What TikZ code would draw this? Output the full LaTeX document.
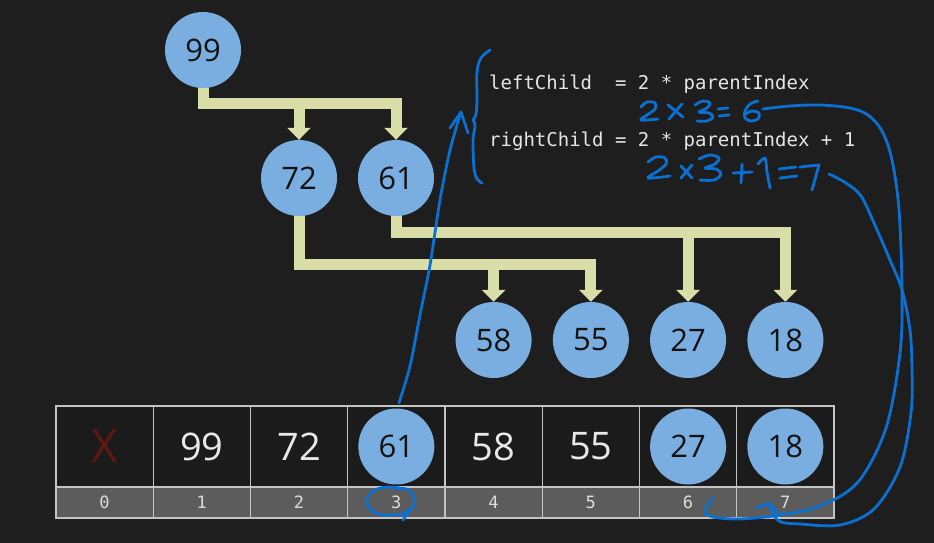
\documentclass[tikz,border=0pt]{standalone}
\usepackage{fontspec}
\setmainfont{Open Sans}
\newfontfamily\codefont{DejaVu Sans Mono}
\usetikzlibrary{arrows.meta}
\definecolor{bgc}{HTML}{1E1E1E}
\definecolor{circ}{HTML}{7BAEE0}
\definecolor{circtext}{HTML}{121212}
\definecolor{connc}{HTML}{D9DEA8}
\definecolor{gridc}{HTML}{C4C4C4}
\definecolor{idxfill}{HTML}{5C5C5C}
\definecolor{idxtext}{HTML}{DCDCDC}
\definecolor{valtext}{HTML}{E8E8E8}
\definecolor{xred}{HTML}{5E1712}
\definecolor{codetext}{HTML}{E6E6E6}
\definecolor{ink}{HTML}{0A70D2}
\pgfdeclarelayer{bglayer}
\pgfdeclarelayer{connlayer}
\pgfsetlayers{bglayer,connlayer,main}
\tikzset{
  tnode/.style={circle, minimum size=76pt, inner sep=0pt, fill=circ, text=circtext, font=\fontsize{31}{36}\selectfont},
  conn/.style={draw=connc, line width=11pt, -{Triangle[width=23pt,length=12pt]}},
  valcell/.style={draw=gridc, line width=1.2pt, fill=bgc!90!black, minimum width=97.25pt, minimum height=81pt, inner sep=0pt, text=valtext, font=\fontsize{38}{44}\selectfont},
  idxcell/.style={draw=gridc, line width=1.2pt, fill=idxfill, minimum width=97.25pt, minimum height=31pt, inner sep=0pt, text=idxtext, font=\codefont\fontsize{17}{20}\selectfont},
  codeline/.style={anchor=base west, inner sep=0pt, text=codetext, font=\codefont\fontsize{19}{23}\selectfont},
  hand/.style={draw=ink, line width=2.8pt, line cap=round, line join=round}
}
\begin{document}
\begin{tikzpicture}[x=1pt,y=-1pt]
\begin{pgfonlayer}{bglayer}
\fill[bgc] (0,0) rectangle (934,543);
\end{pgfonlayer}
\useasboundingbox (0,0) rectangle (934,543);

% tree nodes
\node[tnode] (t99) at (203,50) {99};
\node[tnode] (t72) at (299,178) {72};
\node[tnode] (t61) at (396,178) {61};
\node[tnode] (t58) at (493.6,340) {58};
\node[tnode] (t55) at (590.9,340) {55};
\node[tnode] (t27) at (688.1,340) {27};
\node[tnode] (t18) at (785.4,340) {18};

\coordinate (b1) at (0,103.5);
\coordinate (b2) at (0,264);
\coordinate (b3) at (0,232);

\begin{pgfonlayer}{connlayer}
\draw[conn] (t99.center) -- (t99.center |- b1) -| (t61.north);
\draw[conn] (t72.north |- b1) -- (t72.north);
\draw[conn] (t72.center) -- (t72.center |- b2) -| (t55.north);
\draw[conn] (t58.north |- b2) -- (t58.north);
\draw[conn] (t61.center) -- (t61.center |- b3) -| (t18.north);
\draw[conn] (t27.north |- b3) -- (t27.north);
\end{pgfonlayer}

% array
\foreach \i/\v in {0/,1/99,2/72,3/,4/58,5/55,6/,7/}{
  \node[valcell] (v\i) at (104.6+97.25*\i,446.5) {\v};
  \node[idxcell] (i\i) at (104.6+97.25*\i,502.5) {\i};
}
\node[text=xred, font=\fontsize{46}{50}\selectfont] (xmark) at (v0) {X};
\node[tnode] (a3) at (v3) {61};
\node[tnode] (a6) at (v6) {27};
\node[tnode] (a7) at (v7) {18};

% code
\node[codeline] (lc) at (489,89) {leftChild\ \ =\ 2\ *\ parentIndex};
\node[codeline] (rc) at (489,146) {rightChild\ =\ 2\ *\ parentIndex\ +\ 1};

% hand-drawn annotations
% brace
\draw[hand] plot[smooth, tension=0.6] coordinates {(490,50)(481,58)(477,72)(477,100)(476,114)(473,120)};
\draw[hand] plot[smooth, tension=0.6] coordinates {(473,120)(475,126)(473,140)(474,168)(477,179)(482,183)};
% arrow from 3 up to brace
\coordinate (arrs) at (399,403);
\coordinate (arre) at (461,112);
\draw[hand] plot[smooth] coordinates {(arrs)(410,366)(420,315)(430,265)(440,200)(450,150)(arre)};
\draw[hand] (450,128) -- (arre) -- (468,133);
% loop round index 3
\draw[hand] plot[smooth, tension=0.7] coordinates {(404,489)(387,487)(372,492)(367,503)(376,513)(395,515)(411,509)(414,497)(406,489)(396,489)};
\draw[hand] (413,506) -- (403,520);

% 2 x 3 = 6
\draw[hand] plot[smooth, tension=0.6] coordinates {(641,107)(647,102)(655,103)(655,109)(647,115)(641,120)(658,119)};
\draw[hand] (668,105) -- (683,117);
\draw[hand] (682,104) -- (669,119);
\draw[hand] plot[smooth, tension=0.6] coordinates {(695,105)(703,101)(710,103)(707,108)(699,112)(709,113)(713,117)(707,121)(697,121)};
\draw[hand] (718,109) -- (728,108);
\draw[hand] (719,116) -- (729,115);
\draw[hand] plot[smooth, tension=0.6] coordinates {(758,101)(750,104)(745,111)(745,118)(751,121)(758,119)(759,113)(752,111)(746,114)};
% curve from 6 to index 6
\draw[hand] plot[smooth, tension=0.55] coordinates {(763,109)(790,106)(820,105)(850,108)(868,115)(882,131)(892,160)(899,210)(902,290)(900,353)(886,428)(858,482)(820,506)(780,515)(740,519)(713,517)(704,512)};
\draw[hand] (704,512) -- (712,498);

% 2 x 3 + 1 = 7
\draw[hand] plot[smooth, tension=0.6] coordinates {(648,162)(656,157)(665,158)(666,164)(658,171)(648,178)(670,176)};
\draw[hand] (681,166) -- (692,178);
\draw[hand] (692,165) -- (681,178);
\draw[hand] plot[smooth, tension=0.6] coordinates {(699,159)(710,155)(719,158)(715,164)(705,168)(716,169)(721,174)(714,180)(700,180)};
\draw[hand] (733,173) -- (752,172);
\draw[hand] (742,164) -- (741,183);
\draw[hand] plot[smooth, tension=0.5] coordinates {(758,164)(765,158)(767,172)(770,188)};
\draw[hand] (779,169) -- (796,167);
\draw[hand] (780,178) -- (797,176);
\draw[hand] (800,167) -- (819,165) -- (812,190);
% curve from 7 to index 7
\draw[hand] plot[smooth, tension=0.55] coordinates {(829,174)(846,183)(861,196)(874,223)(890,260)(902,290)(910,330)(912,370)(911,413)(900,467)(874,509)(840,525)(800,524)(781,522)(773,514)(769,504)};
\draw[hand] (757,508) -- (769,503) -- (779,514);
\end{tikzpicture}
\end{document}
